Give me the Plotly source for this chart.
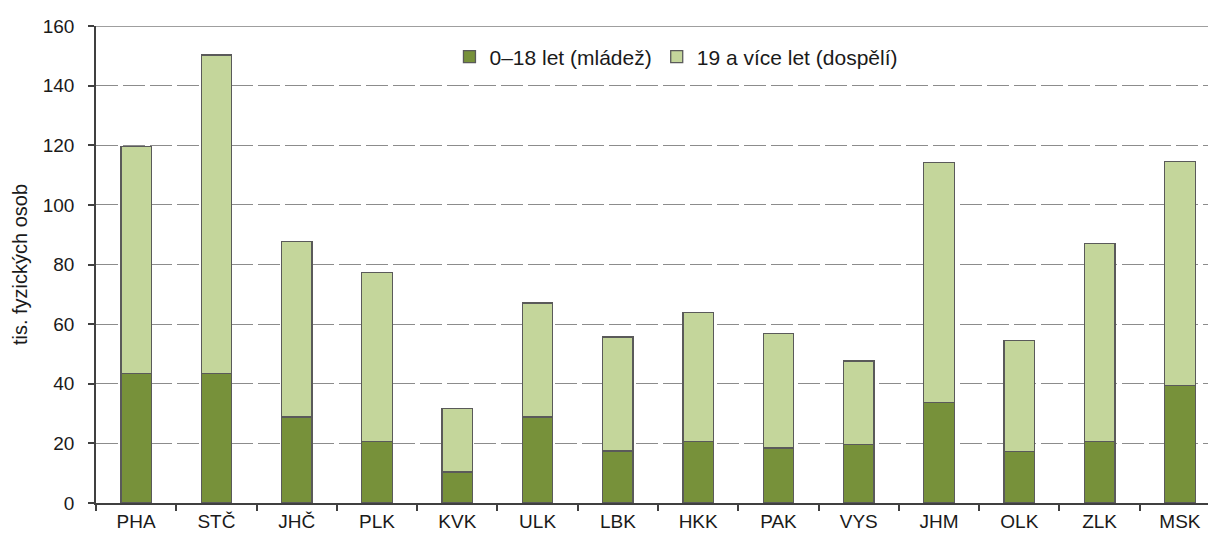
import plotly.graph_objects as go

categories = ["PHA", "STČ", "JHČ", "PLK", "KVK", "ULK", "LBK", "HKK", "PAK", "VYS", "JHM", "OLK", "ZLK", "MSK"]
youth = [43.5, 43.5, 28.8, 20.6, 10.4, 28.8, 17.4, 20.6, 18.5, 19.6, 33.8, 17.3, 20.6, 39.5]
total = [119.5, 150.3, 87.7, 77.4, 31.7, 67.1, 55.7, 63.8, 56.9, 47.6, 114.1, 54.5, 87.1, 114.6]
adults = [round(t - y, 1) for t, y in zip(total, youth)]

name_youth = "0–18 let (mládež)"
name_adults = "19 a více let (dospělí)"
y_ticks = [0, 20, 40, 60, 80, 100, 120, 140, 160]

fig = go.Figure()
fig.add_trace(go.Bar(
    x=categories, y=youth, name=name_youth, width=0.38,
    marker=dict(color="#77913a", line=dict(color="#5a5a5a", width=1.3)),
))
fig.add_trace(go.Bar(
    x=categories, y=adults, name=name_adults, width=0.38,
    marker=dict(color="#c4d69b", line=dict(color="#5a5a5a", width=1.3)),
))

fig.add_shape(type="line", xref="paper", yref="y", x0=0, x1=1, y0=160, y1=160,
              line=dict(color="#7f7f7f", width=1.5))

fig.update_layout(
    barmode="stack",
    width=1208, height=539,
    margin=dict(l=96, r=0, t=26, b=36),
    plot_bgcolor="white", paper_bgcolor="white",
    font=dict(family="Liberation Sans, Arial, sans-serif", size=19, color="#1a1a1a"),
    showlegend=True,
    legend=dict(orientation="h", x=0.522, xanchor="center", y=0.935, yanchor="middle",
                font=dict(size=21, color="#1a1a1a"), bgcolor="rgba(0,0,0,0)",
                traceorder="normal", itemwidth=30),
    xaxis=dict(
        type="category", range=[-0.5, 13.35], automargin=False,
        showline=True, linecolor="#404040", linewidth=1.5,
        ticks="outside", tickson="boundaries", ticklen=6, tickcolor="#404040", tickwidth=1.5,
        showgrid=False, tickfont=dict(size=19),
    ),
    yaxis=dict(
        range=[0, 160], tickvals=y_ticks, automargin=False,
        showline=True, linecolor="#404040", linewidth=1.5,
        ticks="outside", ticklen=6, tickcolor="#404040", tickwidth=1.5,
        showgrid=True, gridcolor="#8c8c8c", gridwidth=1.3, griddash="22px,5px",
        zeroline=False, tickfont=dict(size=19), ticklabelstandoff=10,
        title=dict(text="tis. fyzických osob", font=dict(size=20), standoff=10),
    ),
)

fig.write_html(
    "out.html",
    config={"displayModeBar": False},
    post_script="document.body.style.margin='0';document.body.style.overflow='hidden';",
)
